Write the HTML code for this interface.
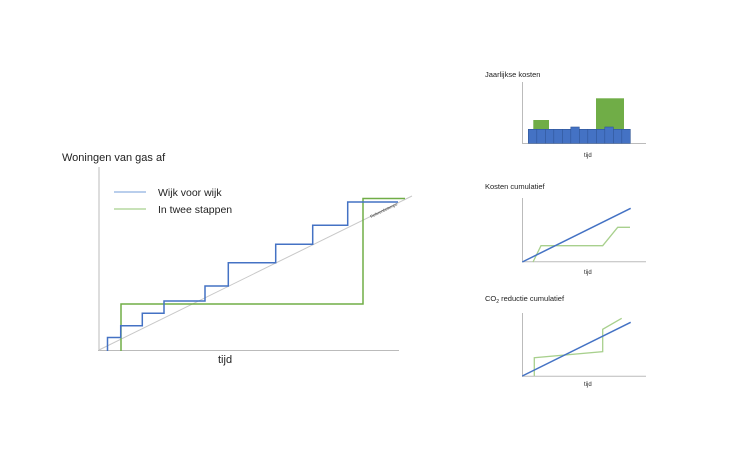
<!DOCTYPE html>
<html><head><style>
html,body{margin:0;padding:0;background:#fff;width:750px;height:450px;overflow:hidden}
svg{display:block}
text{font-family:"Liberation Sans",sans-serif;fill:#222}
</style></head><body>
<svg width="750" height="450" viewBox="0 0 750 450" xmlns="http://www.w3.org/2000/svg">
<!-- main chart -->
<text x="62" y="161" font-size="11">Woningen van gas af</text>
<line x1="99" y1="167" x2="99" y2="351" stroke="#bbb" stroke-width="1"/>
<line x1="98" y1="350.5" x2="399" y2="350.5" stroke="#bbb" stroke-width="1"/>
<line x1="99" y1="350" x2="412" y2="196" stroke="#c8c8c8" stroke-width="1"/>
<text x="0" y="0" font-size="4" transform="translate(371,218) rotate(-26)">Referentietempo</text>
<line x1="114" y1="192" x2="146" y2="192" stroke="#8fb0e0" stroke-width="1.2"/>
<text x="158" y="196" font-size="10.5">Wijk voor wijk</text>
<line x1="114" y1="209" x2="146" y2="209" stroke="#a8d08d" stroke-width="1.2"/>
<text x="158" y="213" font-size="10.5">In twee stappen</text>
<polyline fill="none" stroke="#70ad47" stroke-width="1.5" points="121,351 121,304 363,304 363,198.5 405,198.5"/>
<polyline fill="none" stroke="#4472c4" stroke-width="1.5" points="107.5,351 107.5,337.5 120.7,337.5 120.7,325.7 142.3,325.7 142.3,313.3 164,313.3 164,301 205,301 205,286 228.3,286 228.3,262.7 275.7,262.7 275.7,244.3 312.7,244.3 312.7,225.3 347.7,225.3 347.7,202 398,202"/>
<text x="218" y="363" font-size="11">tijd</text>

<!-- chart 1 -->
<text x="485" y="77" font-size="7.5">Jaarlijkse kosten</text>
<line x1="522.5" y1="82" x2="522.5" y2="144" stroke="#bbb"/>
<line x1="522" y1="143.5" x2="646" y2="143.5" stroke="#bbb"/>
<rect x="533.3" y="120" width="15.7" height="23" fill="#70ad47"/>
<rect x="596" y="98.3" width="28" height="45" fill="#70ad47"/>
<g fill="#4472c4" stroke="#2f5597" stroke-width="0.6">
<rect x="528.3" y="129.3" width="8.5" height="14"/>
<rect x="536.8" y="129.3" width="8.5" height="14"/>
<rect x="545.3" y="129.3" width="8.5" height="14"/>
<rect x="553.8" y="129.3" width="8.5" height="14"/>
<rect x="562.3" y="129.3" width="8.5" height="14"/>
<rect x="570.8" y="127" width="8.5" height="16.3"/>
<rect x="579.3" y="129.3" width="8.5" height="14"/>
<rect x="587.8" y="129.3" width="8.5" height="14"/>
<rect x="596.3" y="129.3" width="8.5" height="14"/>
<rect x="604.8" y="127" width="8.5" height="16.3"/>
<rect x="613.3" y="129.3" width="8.5" height="14"/>
<rect x="621.8" y="129.3" width="8.5" height="14"/>
</g>
<text x="584" y="157" font-size="6">tijd</text>

<!-- chart 2 -->
<text x="485" y="189" font-size="7.5">Kosten cumulatief</text>
<line x1="522.5" y1="198" x2="522.5" y2="262" stroke="#bbb"/>
<line x1="522" y1="261.7" x2="646" y2="261.7" stroke="#bbb"/>
<polyline fill="none" stroke="#a8d08d" stroke-width="1.3" points="533,262 541,245.7 602.7,245.7 617.7,227.3 630,227.3"/>
<line x1="522.3" y1="262" x2="630.7" y2="208.3" stroke="#4472c4" stroke-width="1.5"/>
<text x="584" y="274" font-size="6">tijd</text>

<!-- chart 3 -->
<text x="485" y="301" font-size="7.5">CO<tspan font-size="5" dy="2">2</tspan><tspan dy="-2"> reductie cumulatief</tspan></text>
<line x1="522.5" y1="313" x2="522.5" y2="377" stroke="#bbb"/>
<line x1="522" y1="376.3" x2="646" y2="376.3" stroke="#bbb"/>
<polyline fill="none" stroke="#a8d08d" stroke-width="1.3" points="534.3,376 534.3,357.7 602.7,351.7 602.7,329.3 621.7,318.3"/>
<line x1="522.3" y1="376" x2="630.7" y2="322.3" stroke="#4472c4" stroke-width="1.5"/>
<text x="584" y="386" font-size="6">tijd</text>
</svg>
</body></html>
